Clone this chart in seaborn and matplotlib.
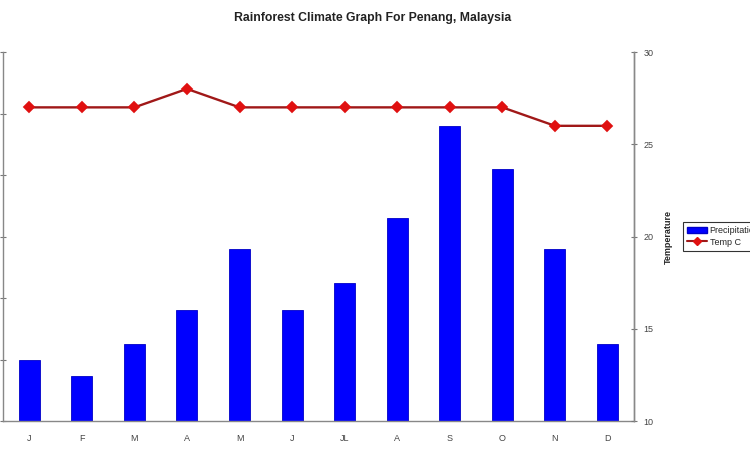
import numpy as np
import pandas as pd
import matplotlib
matplotlib.use("Agg")
import matplotlib.pyplot as plt
import seaborn as sns
from matplotlib.patches import Patch
from matplotlib.lines import Line2D

months = ["J", "F", "M", "A", "M", "J", "JL", "A", "S", "O", "N", "D"]
precip = [100, 73, 125, 180, 280, 180, 224, 330, 480, 410, 280, 125]
temp_c = [27, 27, 27, 28, 27, 27, 27, 27, 27, 27, 26, 26]

sns.set_style("white")
plt.rcParams["font.family"] = ["Liberation Sans", "DejaVu Sans"]

df = pd.DataFrame({"pos": [str(i) for i in range(len(months))],
                   "precip": precip, "temp": temp_c})

fig = plt.figure(figsize=(7.5, 4.5), dpi=100)
ax = fig.add_axes([0.004, 0.0644, 0.841, 0.82])

sns.barplot(data=df, x="pos", y="precip", color="#0000ff", width=0.4,
            saturation=1, edgecolor="#0000c8", linewidth=0.6, ax=ax)
ax.set_ylim(0, 600)
ax.set_yticks(np.arange(0, 601, 100))
ax.set_xlim(-0.5, len(months) - 0.5)
ax.set_xticks(np.arange(len(months)))
ax.set_xticklabels(months, fontsize=6.5, color="#444444")
ax.set_xticks(np.arange(len(months) + 1) - 0.5, minor=True)
ax.tick_params(axis="x", which="major", length=0, pad=9)
ax.tick_params(axis="x", which="minor", length=4, direction="inout", color="#777777")
ax.tick_params(axis="y", labelleft=False, length=4, direction="inout", color="#777777", left=True)
ax.set_xlabel("")
ax.set_ylabel("")

ax2 = ax.twinx()
sns.pointplot(data=df, x="pos", y="temp", color="#a01818", markers="D",
              markersize=5, linewidth=1.7, ax=ax2)
for l in ax2.lines:
    l.set_markerfacecolor("#e01010")
    l.set_markeredgecolor("#e01010")
ax2.set_ylim(10, 30)
ax2.set_yticks([10, 15, 20, 25, 30])
ax2.tick_params(axis="y", labelsize=6.5, length=4, direction="inout", color="#777777",
                labelcolor="#444444", right=True, pad=5)
ax2.set_xlim(-0.5, len(months) - 0.5)
ax2.set_xlabel("")
ax2.set_ylabel("Temperature", fontsize=6.5, fontweight="bold")
ax2.yaxis.set_label_coords(1.047, 0.5)

for a in (ax, ax2):
    a.spines["top"].set_visible(False)
    for s in ("left", "right", "bottom"):
        a.spines[s].set_color("#888888")
        a.spines[s].set_linewidth(1.0)
ax2.spines["left"].set_visible(False)
ax2.spines["bottom"].set_visible(False)

handles = [Patch(facecolor="#0000ff", edgecolor="#0000c8", label="Precipitation"),
           Line2D([], [], color="#a01818", marker="D", markersize=4,
                  markerfacecolor="#e01010", markeredgecolor="#e01010", label="Temp C")]
leg = ax2.legend(handles=handles, loc="center left", bbox_to_anchor=(1.071, 0.5),
                 fontsize=6.5, frameon=True, fancybox=False, borderpad=0.45,
                 handlelength=2.2, handletextpad=0.3, labelspacing=0.25)
leg.get_frame().set_edgecolor("black")
leg.get_frame().set_linewidth(0.8)

fig.text(0.497, 0.96, "Rainforest Climate Graph For Penang, Malaysia",
         ha="center", va="center", fontsize=8.8, fontweight="bold", color="#222222")

fig.savefig("out.png", dpi=100)
